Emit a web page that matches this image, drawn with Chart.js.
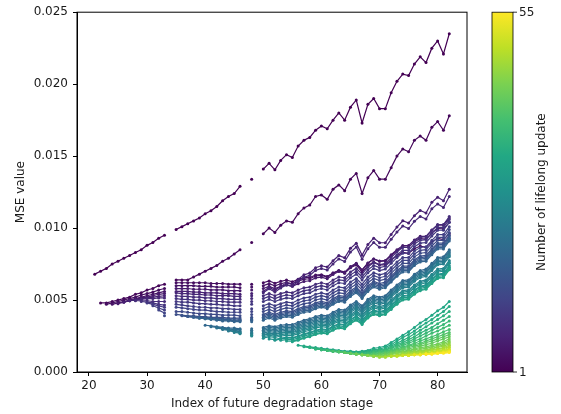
<!DOCTYPE html>
<html>
<head>
<meta charset="utf-8">
<script src="https://cdn.jsdelivr.net/npm/chart.js@4.4.0/dist/chart.umd.min.js"></script>
<style>
  html, body { margin: 0; padding: 0; background: #fff; }
  #wrap { width: 561px; height: 414px; }
</style>
</head>
<body>
<div id="wrap"><canvas id="mse" width="561" height="414"></canvas></div>
<script>
// Degradation stages that have a prediction (no ground truth at 34, 47, 49)
const stages = [21, 22, 23, 24, 25, 26, 27, 28, 29, 30, 31, 32, 33,
  35, 36, 37, 38, 39, 40, 41, 42, 43, 44, 45, 46, 48,
  50, 51, 52, 53, 54, 55, 56, 57, 58, 59, 60, 61, 62, 63, 64, 65, 66,
  67, 68, 69, 70, 71, 72, 73, 74, 75, 76, 77, 78, 79, 80, 81, 82];
const missingStages = [34, 47, 49];
const xTicks = [20, 30, 40, 50, 60, 70, 80];
const yTicks = [0, 0.005, 0.010, 0.015, 0.020, 0.025];
const updateTicks = [1, 55];

// MSE (x 1e-3) after each lifelong update; every run ends at stage 82
const run1 = [6.8, 7.0, 7.2, 7.5, 7.7, 7.9, 8.1, 8.3, 8.5, 8.8, 9.0, 9.3, 9.5, 9.9, 10.1, 10.3, 10.5, 10.7, 11.0, 11.2, 11.5, 11.9, 12.2, 12.4, 12.9, 13.4, 14.1, 14.5, 14.05, 14.7, 15.1, 14.9, 15.7, 16.1, 16.3, 16.8, 17.1, 16.9, 17.5, 18.0, 17.5, 18.4, 18.9, 17.3, 18.6, 19.0, 18.3, 18.3, 19.4, 20.2, 20.7, 20.6, 21.4, 21.9, 21.5, 22.5, 23.0, 22.1, 23.5];
const run2 = [4.8, 4.8, 4.9, 5.0, 5.1, 5.2, 5.4, 5.5, 5.7, 5.8, 6.0, 6.1, 6.4, 6.4, 6.4, 6.6, 6.8, 7.0, 7.2, 7.4, 7.7, 7.9, 8.2, 8.5, 9.0, 9.6, 10.0, 9.7, 10.2, 10.5, 10.4, 11.0, 11.4, 11.6, 12.2, 12.3, 12.0, 12.7, 13.0, 12.6, 13.4, 13.8, 12.4, 13.5, 14.0, 13.4, 13.4, 14.2, 15.0, 15.5, 15.3, 16.1, 16.4, 16.1, 17.0, 17.4, 16.8, 17.8];
const run3 = [4.7, 4.8, 4.9, 5.0, 5.1, 5.2, 5.35, 5.45, 5.55, 5.7, 5.8, 6.2, 6.2, 6.2, 6.2, 6.2, 6.2, 6.15, 6.15, 6.15, 6.1, 6.1, 6.1, 6.1, 6.2, 6.33, 6.17, 6.3, 6.39, 6.27, 6.44, 6.56, 6.57, 6.74, 6.76, 6.63, 6.88, 7.03, 6.88, 7.24, 7.44, 6.94, 7.39, 7.64, 7.45, 7.45, 7.78, 8.07, 8.31, 8.24, 8.56, 8.75, 8.67, 9.04, 9.29, 9.2, 9.6];
const run4 = [4.7, 4.8, 4.9, 5.0, 5.1, 5.2, 5.3, 5.4, 5.5, 5.6, 6.0, 6.0, 6.0, 6.0, 5.95, 5.95, 5.95, 5.9, 5.9, 5.9, 5.9, 5.85, 5.9, 6.0, 6.14, 5.99, 6.13, 6.23, 6.12, 6.31, 6.45, 6.48, 6.67, 6.71, 6.6, 6.88, 7.06, 6.94, 7.33, 7.56, 7.09, 7.57, 7.85, 7.69, 7.72, 8.09, 8.42, 8.7, 8.67, 9.04, 9.27, 9.24, 9.66, 9.97, 9.94, 10.4];
const run5 = [4.75, 4.85, 4.95, 5.05, 5.15, 5.2, 5.3, 5.4, 5.45, 5.8, 5.8, 5.8, 5.75, 5.75, 5.75, 5.7, 5.7, 5.7, 5.65, 5.65, 5.65, 5.7, 5.8, 5.95, 5.8, 5.95, 6.05, 5.95, 6.14, 6.29, 6.34, 6.54, 6.59, 6.48, 6.78, 6.98, 6.87, 7.27, 7.52, 7.07, 7.56, 7.86, 7.71, 7.75, 8.15, 8.5, 8.79, 8.79, 9.18, 9.43, 9.42, 9.87, 10.21, 10.21, 10.7];
const run6 = [4.85, 4.95, 5.0, 5.1, 5.15, 5.2, 5.25, 5.3, 5.6, 5.6, 5.6, 5.55, 5.55, 5.5, 5.5, 5.5, 5.45, 5.45, 5.45, 5.4, 5.45, 5.6, 5.89, 5.66, 5.96, 6.18, 6.09, 6.45, 6.75, 6.88, 7.24, 7.38, 7.29, 7.73, 8.09, 7.93, 8.59, 8.95, 8.12, 8.86, 9.3, 8.98, 8.98, 9.56, 10.07, 10.51, 10.35, 10.86, 11.22, 11.05, 11.79, 12.14, 11.9, 12.7];
const run7 = [4.95, 5.0, 5.05, 5.1, 5.1, 5.15, 5.15, 5.5, 5.45, 5.45, 5.4, 5.4, 5.35, 5.35, 5.3, 5.3, 5.3, 5.25, 5.25, 5.3, 5.5, 5.78, 5.55, 5.84, 6.05, 5.95, 6.3, 6.58, 6.71, 7.06, 7.19, 7.08, 7.51, 7.86, 7.68, 8.33, 8.68, 7.84, 8.57, 9.0, 8.67, 8.66, 9.22, 9.72, 10.14, 9.97, 10.47, 10.81, 10.63, 11.34, 11.68, 11.43, 12.2];
const run8 = [4.95, 4.95, 4.95, 4.9, 4.9, 4.9, 5.3, 5.25, 5.25, 5.2, 5.2, 5.15, 5.15, 5.1, 5.1, 5.05, 5.05, 5.05, 5.1, 5.3, 5.45, 5.3, 5.45, 5.55, 5.5, 5.7, 5.85, 5.9, 6.1, 6.2, 6.1, 6.4, 6.6, 6.55, 6.95, 7.2, 6.8, 7.3, 7.6, 7.45, 7.55, 7.95, 8.35, 8.65, 8.65, 9.1, 9.35, 9.4, 9.85, 10.25, 10.25, 10.8];
const run9 = [4.9, 4.85, 4.8, 4.7, 4.65, 5.1, 5.05, 5.05, 5.0, 5.0, 4.95, 4.95, 4.9, 4.9, 4.85, 4.85, 4.85, 4.9, 5.1, 5.25, 5.1, 5.25, 5.35, 5.3, 5.5, 5.65, 5.7, 5.9, 6.0, 5.9, 6.2, 6.4, 6.35, 6.75, 7.0, 6.6, 7.1, 7.4, 7.25, 7.35, 7.75, 8.15, 8.45, 8.45, 8.9, 9.15, 9.2, 9.65, 10.05, 10.05, 10.6];
const run10 = [4.8, 4.7, 4.6, 4.5, 4.9, 4.85, 4.85, 4.8, 4.75, 4.75, 4.7, 4.7, 4.65, 4.65, 4.6, 4.6, 4.7, 4.9, 5.05, 4.9, 5.05, 5.15, 5.1, 5.3, 5.45, 5.5, 5.7, 5.8, 5.7, 6.0, 6.2, 6.15, 6.55, 6.8, 6.4, 6.9, 7.2, 7.05, 7.15, 7.55, 7.95, 8.25, 8.25, 8.7, 8.95, 9.0, 9.45, 9.85, 9.85, 10.4];
const run11 = [4.6, 4.45, 4.3, 4.7, 4.65, 4.6, 4.55, 4.5, 4.5, 4.45, 4.45, 4.4, 4.4, 4.35, 4.35, 4.4, 4.6, 4.75, 4.6, 4.75, 4.85, 4.8, 5.0, 5.15, 5.2, 5.4, 5.5, 5.4, 5.7, 5.9, 5.85, 6.25, 6.5, 6.1, 6.6, 6.9, 6.75, 6.85, 7.25, 7.65, 7.95, 7.95, 8.4, 8.65, 8.7, 9.15, 9.55, 9.55, 10.1];
const run12 = [4.3, 4.1, 4.5, 4.45, 4.4, 4.35, 4.3, 4.3, 4.25, 4.2, 4.2, 4.15, 4.15, 4.15, 4.2, 4.4, 4.55, 4.4, 4.55, 4.65, 4.6, 4.8, 4.95, 5.0, 5.2, 5.3, 5.2, 5.5, 5.7, 5.65, 6.05, 6.3, 5.9, 6.4, 6.7, 6.55, 6.65, 7.05, 7.45, 7.75, 7.75, 8.2, 8.45, 8.5, 8.95, 9.35, 9.35, 9.9];
const run13 = [3.9, 4.2, 4.2, 4.15, 4.1, 4.05, 4.05, 4.0, 4.0, 3.95, 3.95, 3.95, 3.9, 4.0, 4.2, 4.35, 4.2, 4.35, 4.45, 4.4, 4.6, 4.75, 4.8, 5.0, 5.1, 5.0, 5.3, 5.5, 5.45, 5.85, 6.1, 5.7, 6.2, 6.5, 6.35, 6.45, 6.85, 7.25, 7.55, 7.55, 8.0, 8.25, 8.3, 8.75, 9.15, 9.15, 9.7];
const run14 = [4.0, 3.95, 3.9, 3.9, 3.85, 3.85, 3.8, 3.8, 3.8, 3.75, 3.75, 3.75, 3.8, 4.0, 4.15, 4.0, 4.15, 4.25, 4.2, 4.4, 4.55, 4.6, 4.8, 4.9, 4.8, 5.1, 5.3, 5.25, 5.65, 5.9, 5.5, 6.0, 6.3, 6.15, 6.25, 6.65, 7.05, 7.35, 7.35, 7.8, 8.05, 8.1, 8.55, 8.95, 8.95, 9.5];
const run15 = [3.9, 3.85, 3.85, 3.8, 3.8, 3.75, 3.75, 3.7, 3.7, 3.7, 3.65, 3.7, 3.9, 4.05, 3.9, 4.05, 4.15, 4.1, 4.3, 4.45, 4.5, 4.7, 4.8, 4.7, 5.0, 5.2, 5.15, 5.55, 5.8, 5.4, 5.9, 6.2, 6.05, 6.15, 6.55, 6.95, 7.25, 7.25, 7.7, 7.95, 8.0, 8.45, 8.85, 8.85, 9.4];
const run16 = [3.85, 3.8, 3.75, 3.75, 3.7, 3.7, 3.65, 3.65, 3.6, 3.6, 3.65, 3.8, 3.95, 3.8, 3.95, 4.05, 4.0, 4.2, 4.35, 4.4, 4.6, 4.7, 4.6, 4.9, 5.1, 5.05, 5.45, 5.7, 5.3, 5.8, 6.1, 5.95, 6.05, 6.45, 6.85, 7.15, 7.15, 7.6, 7.85, 7.9, 8.35, 8.75, 8.75, 9.3];
const run17 = [3.8, 3.75, 3.7, 3.7, 3.65, 3.6, 3.6, 3.55, 3.55, 3.6, 3.7, 3.85, 3.7, 3.85, 3.95, 3.9, 4.1, 4.25, 4.3, 4.5, 4.6, 4.5, 4.8, 5.0, 4.95, 5.35, 5.6, 5.2, 5.7, 6.0, 5.85, 5.95, 6.35, 6.75, 7.05, 7.05, 7.5, 7.75, 7.8, 8.25, 8.65, 8.65, 9.2];
const run18 = [3.75, 3.7, 3.65, 3.6, 3.55, 3.55, 3.5, 3.5, 3.5, 3.6, 3.75, 3.6, 3.75, 3.85, 3.8, 4.0, 4.15, 4.2, 4.4, 4.5, 4.4, 4.7, 4.9, 4.85, 5.25, 5.5, 5.1, 5.6, 5.9, 5.75, 5.85, 6.25, 6.65, 6.95, 6.95, 7.4, 7.65, 7.7, 8.15, 8.55, 8.55, 9.1];
const run19 = [3.25, 3.2, 3.15, 3.1, 3.05, 3.05, 3.0, 3.0, 3.1, 3.2, 3.15, 3.25, 3.3, 3.3, 3.45, 3.6, 3.7, 3.85, 3.95, 3.9, 4.15, 4.35, 4.3, 4.65, 4.9, 4.6, 5.05, 5.3, 5.2, 5.3, 5.7, 6.05, 6.35, 6.4, 6.8, 7.05, 7.15, 7.55, 7.95, 8.0, 8.5];
const run20 = [3.15, 3.1, 3.05, 3.0, 2.95, 2.95, 2.9, 3.0, 3.1, 3.05, 3.15, 3.2, 3.2, 3.35, 3.5, 3.6, 3.75, 3.85, 3.8, 4.05, 4.25, 4.2, 4.55, 4.8, 4.5, 4.95, 5.2, 5.1, 5.2, 5.6, 5.95, 6.25, 6.3, 6.7, 6.95, 7.05, 7.45, 7.85, 7.9, 8.4];
const run21 = [3.05, 3.0, 2.95, 2.9, 2.85, 2.85, 2.9, 3.0, 2.95, 3.05, 3.1, 3.1, 3.25, 3.4, 3.5, 3.65, 3.75, 3.7, 3.95, 4.15, 4.1, 4.45, 4.7, 4.4, 4.85, 5.1, 5.0, 5.1, 5.5, 5.85, 6.15, 6.2, 6.6, 6.85, 6.95, 7.35, 7.75, 7.8, 8.3];
const run22 = [2.95, 2.9, 2.85, 2.8, 2.75, 2.8, 2.9, 2.85, 2.95, 3.0, 3.0, 3.15, 3.3, 3.4, 3.55, 3.65, 3.6, 3.85, 4.05, 4.0, 4.35, 4.6, 4.3, 4.75, 5.0, 4.9, 5.0, 5.4, 5.75, 6.05, 6.1, 6.5, 6.75, 6.85, 7.25, 7.65, 7.7, 8.2];
const run23 = [2.85, 2.8, 2.75, 2.7, 2.7, 2.8, 2.75, 2.85, 2.9, 2.9, 3.05, 3.2, 3.3, 3.45, 3.55, 3.5, 3.75, 3.95, 3.9, 4.25, 4.5, 4.2, 4.65, 4.9, 4.8, 4.9, 5.3, 5.65, 5.95, 6.0, 6.4, 6.65, 6.75, 7.15, 7.55, 7.6, 8.1];
const run24 = [2.75, 2.7, 2.6, 2.6, 2.7, 2.65, 2.75, 2.8, 2.8, 2.95, 3.1, 3.2, 3.35, 3.45, 3.4, 3.65, 3.85, 3.8, 4.15, 4.4, 4.1, 4.55, 4.8, 4.7, 4.8, 5.2, 5.55, 5.85, 5.9, 6.3, 6.55, 6.65, 7.05, 7.45, 7.5, 8.0];
const run25 = [2.65, 2.55, 2.55, 2.65, 2.6, 2.7, 2.75, 2.75, 2.85, 3.0, 3.1, 3.25, 3.35, 3.3, 3.55, 3.7, 3.65, 4.0, 4.25, 3.95, 4.4, 4.65, 4.55, 4.65, 5.0, 5.35, 5.65, 5.7, 6.05, 6.3, 6.4, 6.8, 7.15, 7.2, 7.75];
const run26 = [2.5, 2.45, 2.55, 2.5, 2.6, 2.65, 2.65, 2.75, 2.9, 3.0, 3.15, 3.25, 3.2, 3.45, 3.6, 3.55, 3.9, 4.15, 3.85, 4.3, 4.55, 4.45, 4.55, 4.9, 5.25, 5.55, 5.6, 5.95, 6.2, 6.3, 6.7, 7.05, 7.1, 7.65];
const run27 = [2.35, 2.45, 2.4, 2.5, 2.55, 2.55, 2.65, 2.8, 2.9, 3.05, 3.15, 3.1, 3.35, 3.5, 3.45, 3.8, 4.05, 3.75, 4.2, 4.45, 4.35, 4.45, 4.8, 5.15, 5.45, 5.5, 5.85, 6.1, 6.2, 6.6, 6.95, 7.0, 7.55];
const run28 = [2.3, 2.25, 2.35, 2.4, 2.4, 2.5, 2.65, 2.75, 2.9, 3.0, 2.95, 3.2, 3.35, 3.3, 3.65, 3.9, 3.6, 4.05, 4.3, 4.2, 4.3, 4.65, 5.0, 5.3, 5.35, 5.7, 5.95, 6.05, 6.45, 6.8, 6.85, 7.4];
const run29 = [2.2, 2.3, 2.35, 2.35, 2.45, 2.6, 2.7, 2.85, 2.95, 2.9, 3.15, 3.3, 3.25, 3.6, 3.85, 3.55, 4.0, 4.25, 4.15, 4.25, 4.6, 4.95, 5.25, 5.3, 5.65, 5.9, 6.0, 6.4, 6.75, 6.8, 7.3];
const run30 = [2.2, 2.25, 2.25, 2.35, 2.5, 2.6, 2.75, 2.85, 2.8, 3.05, 3.2, 3.15, 3.5, 3.75, 3.45, 3.9, 4.15, 4.05, 4.15, 4.5, 4.85, 5.15, 5.2, 5.55, 5.8, 5.9, 6.3, 6.65, 6.7, 7.25];
const run31 = [2.15, 2.15, 2.25, 2.4, 2.5, 2.65, 2.75, 2.7, 2.95, 3.1, 3.05, 3.4, 3.65, 3.35, 3.8, 4.05, 3.95, 4.05, 4.4, 4.75, 5.05, 5.1, 5.45, 5.7, 5.8, 6.2, 6.55, 6.6, 7.15];
const run32 = [2.1, 2.2, 2.35, 2.45, 2.6, 2.7, 2.65, 2.9, 3.05, 3.0, 3.35, 3.6, 3.3, 3.75, 4.0, 3.9, 4.0, 4.35, 4.7, 5.0, 5.05, 5.4, 5.65, 5.75, 6.15, 6.5, 6.55, 7.1];
const run33 = [1.85, 1.8, 1.75, 1.7, 1.65, 1.6, 1.55, 1.5, 1.45, 1.45, 1.4, 1.45, 1.5, 1.65, 1.7, 1.8, 2.05, 2.3, 2.55, 2.8, 3.1, 3.4, 3.65, 3.95, 4.25, 4.5, 4.9];
const run34 = [1.75, 1.7, 1.65, 1.6, 1.55, 1.5, 1.45, 1.4, 1.4, 1.35, 1.4, 1.45, 1.55, 1.6, 1.7, 1.9, 2.15, 2.4, 2.6, 2.85, 3.15, 3.4, 3.65, 3.95, 4.2, 4.55];
const run35 = [1.7, 1.6, 1.55, 1.5, 1.45, 1.4, 1.35, 1.35, 1.3, 1.35, 1.4, 1.5, 1.55, 1.6, 1.8, 2.0, 2.2, 2.4, 2.65, 2.9, 3.15, 3.4, 3.65, 3.9, 4.2];
const run36 = [1.6, 1.55, 1.5, 1.45, 1.4, 1.35, 1.3, 1.3, 1.3, 1.35, 1.45, 1.5, 1.55, 1.7, 1.9, 2.05, 2.25, 2.45, 2.7, 2.9, 3.1, 3.35, 3.6, 3.85];
const run37 = [1.55, 1.5, 1.45, 1.4, 1.35, 1.3, 1.25, 1.25, 1.3, 1.4, 1.45, 1.5, 1.65, 1.8, 1.95, 2.1, 2.3, 2.5, 2.7, 2.9, 3.1, 3.3, 3.55];
const run38 = [1.5, 1.45, 1.4, 1.35, 1.3, 1.25, 1.2, 1.25, 1.35, 1.4, 1.45, 1.55, 1.7, 1.85, 2.0, 2.15, 2.3, 2.5, 2.7, 2.85, 3.05, 3.25];
const run39 = [1.45, 1.4, 1.35, 1.3, 1.25, 1.2, 1.2, 1.3, 1.35, 1.4, 1.5, 1.6, 1.75, 1.85, 2.0, 2.15, 2.3, 2.45, 2.6, 2.8, 2.95];
const run40 = [1.4, 1.35, 1.3, 1.25, 1.2, 1.15, 1.25, 1.3, 1.35, 1.45, 1.55, 1.65, 1.8, 1.9, 2.0, 2.15, 2.3, 2.45, 2.6, 2.75];
const run41 = [1.35, 1.3, 1.25, 1.2, 1.15, 1.2, 1.25, 1.3, 1.4, 1.5, 1.6, 1.7, 1.8, 1.9, 2.05, 2.15, 2.3, 2.45, 2.6];
const run42 = [1.3, 1.25, 1.2, 1.15, 1.15, 1.2, 1.25, 1.35, 1.45, 1.55, 1.6, 1.7, 1.8, 1.9, 2.0, 2.15, 2.3, 2.45];
const run43 = [1.25, 1.2, 1.15, 1.1, 1.15, 1.2, 1.3, 1.4, 1.45, 1.5, 1.6, 1.7, 1.75, 1.85, 1.95, 2.1, 2.3];
const run44 = [1.2, 1.15, 1.1, 1.1, 1.15, 1.25, 1.35, 1.4, 1.45, 1.55, 1.6, 1.65, 1.75, 1.85, 2.0, 2.15];
const run45 = [1.15, 1.1, 1.05, 1.1, 1.2, 1.3, 1.35, 1.4, 1.45, 1.5, 1.55, 1.65, 1.75, 1.9, 2.05];
const run46 = [1.1, 1.05, 1.05, 1.15, 1.2, 1.3, 1.35, 1.4, 1.45, 1.5, 1.6, 1.7, 1.8, 1.95];
const run47 = [1.05, 1.05, 1.1, 1.15, 1.25, 1.3, 1.35, 1.4, 1.45, 1.55, 1.6, 1.7, 1.85];
const run48 = [1.05, 1.1, 1.15, 1.2, 1.25, 1.3, 1.35, 1.4, 1.5, 1.55, 1.65, 1.75];
const run49 = [1.1, 1.1, 1.15, 1.2, 1.25, 1.3, 1.35, 1.4, 1.5, 1.55, 1.7];
const run50 = [1.1, 1.15, 1.15, 1.2, 1.25, 1.3, 1.35, 1.45, 1.5, 1.6];
const run51 = [1.15, 1.15, 1.2, 1.2, 1.25, 1.3, 1.4, 1.45, 1.55];
const run52 = [1.15, 1.2, 1.2, 1.25, 1.3, 1.35, 1.4, 1.5];
const run53 = [1.2, 1.2, 1.25, 1.25, 1.3, 1.35, 1.45];
const run54 = [1.2, 1.25, 1.25, 1.3, 1.35, 1.4];
const run55 = [1.25, 1.25, 1.3, 1.3, 1.35];

const runs = [run1, run2, run3, run4, run5, run6, run7, run8, run9, run10,
  run11, run12, run13, run14, run15, run16, run17, run18, run19, run20,
  run21, run22, run23, run24, run25, run26, run27, run28, run29, run30,
  run31, run32, run33, run34, run35, run36, run37, run38, run39, run40,
  run41, run42, run43, run44, run45, run46, run47, run48, run49, run50,
  run51, run52, run53, run54, run55];

// viridis colormap samples
const viridisStops = ['#440154', '#482475', '#414487', '#355f8d', '#2a788e',
  '#21918c', '#22a884', '#44bf70', '#7ad151', '#bddf26', '#fde725'];

function hexRgb(h) {
  return [1, 3, 5].map(i => parseInt(h.slice(i, i + 2), 16));
}

function viridis(t) {
  const p = Math.min(Math.max(t, 0), 1) * (viridisStops.length - 1);
  const i = Math.min(Math.floor(p), viridisStops.length - 2);
  const f = p - i;
  const a = hexRgb(viridisStops[i]);
  const b = hexRgb(viridisStops[i + 1]);
  const c = a.map((v, j) => Math.round(v + (b[j] - v) * f));
  return `rgb(${c[0]},${c[1]},${c[2]})`;
}

const datasets = runs.map((vals, k) => {
  const st = stages.slice(stages.length - vals.length);
  const pts = [];
  vals.forEach((v, i) => {
    pts.push({ x: st[i], y: v * 1e-3 });
    // break the line across stages without ground truth
    if (i < vals.length - 1 && missingStages.includes(st[i] + 1)) {
      pts.push({ x: st[i] + 1, y: null });
    }
  });
  const col = viridis(k / (runs.length - 1));
  return {
    label: 'update ' + (k + 1),
    data: pts,
    borderColor: col,
    backgroundColor: col,
    pointBackgroundColor: col,
    borderWidth: 1.2,
    pointRadius: 1.5,
    pointBorderWidth: 0,
    tension: 0,
    spanGaps: false,
    order: runs.length - k
  };
});

const textColor = '#1a1a1a';
Chart.defaults.font.family = 'DejaVu Sans';
Chart.defaults.font.size = 12;
Chart.defaults.color = textColor;

// frame around the axes plus the colorbar on the right
const frameAndColorbar = {
  id: 'frameAndColorbar',
  afterDraw(chart) {
    const { ctx, chartArea: a } = chart;
    ctx.save();
    ctx.strokeStyle = '#000';
    ctx.lineWidth = 1;
    ctx.strokeRect(a.left, a.top, a.right - a.left, a.bottom - a.top);

    const x0 = a.right + 25, w = 21;
    const g = ctx.createLinearGradient(0, a.bottom, 0, a.top);
    viridisStops.forEach((c, i) => g.addColorStop(i / (viridisStops.length - 1), c));
    ctx.fillStyle = g;
    ctx.fillRect(x0, a.top, w, a.bottom - a.top);
    ctx.lineWidth = 0.8;
    ctx.strokeRect(x0, a.top, w, a.bottom - a.top);

    const lo = updateTicks[0], hi = updateTicks[updateTicks.length - 1];
    ctx.fillStyle = textColor;
    ctx.font = '12px "DejaVu Sans"';
    ctx.textAlign = 'left';
    ctx.textBaseline = 'middle';
    updateTicks.forEach(v => {
      const y = a.bottom - (v - lo) / (hi - lo) * (a.bottom - a.top);
      ctx.beginPath();
      ctx.moveTo(x0 + w, y);
      ctx.lineTo(x0 + w + 4, y);
      ctx.stroke();
      ctx.fillText(String(v), x0 + w + 6, y + 1);
    });

    ctx.translate(x0 + w + 29, (a.top + a.bottom) / 2);
    ctx.rotate(-Math.PI / 2);
    ctx.textAlign = 'center';
    ctx.fillText('Number of lifelong update', 0, 0);
    ctx.restore();
  }
};

const tickGrid = {
  drawOnChartArea: false,
  drawTicks: true,
  tickLength: 4,
  tickColor: '#000',
  tickWidth: 1
};

new Chart(document.getElementById('mse'), {
  type: 'line',
  data: { datasets },
  plugins: [frameAndColorbar],
  options: {
    responsive: false,
    devicePixelRatio: 1,
    animation: false,
    events: [],
    layout: { padding: { top: 11, right: 94, bottom: 0, left: 0 } },
    plugins: {
      legend: { display: false },
      tooltip: { enabled: false }
    },
    scales: {
      x: {
        type: 'linear',
        min: 17.95,
        max: 85.05,
        afterBuildTicks: s => { s.ticks = xTicks.map(v => ({ value: v })); },
        afterFit: s => { s.height = 42; },
        grid: tickGrid,
        border: { display: true, color: '#000', width: 1 },
        ticks: { padding: 3, maxRotation: 0, autoSkip: false },
        title: {
          display: true,
          text: 'Index of future degradation stage',
          padding: { top: 0, bottom: 2.5 }
        }
      },
      y: {
        min: 0,
        max: 0.025,
        afterBuildTicks: s => { s.ticks = yTicks.map(v => ({ value: v })); },
        afterFit: s => { s.width = 77; },
        grid: tickGrid,
        border: { display: true, color: '#000', width: 1 },
        ticks: { padding: 5, callback: v => v.toFixed(3) },
        title: {
          display: true,
          text: 'MSE value',
          padding: { top: 14, bottom: 0 }
        }
      }
    }
  }
});
</script>
</body>
</html>
